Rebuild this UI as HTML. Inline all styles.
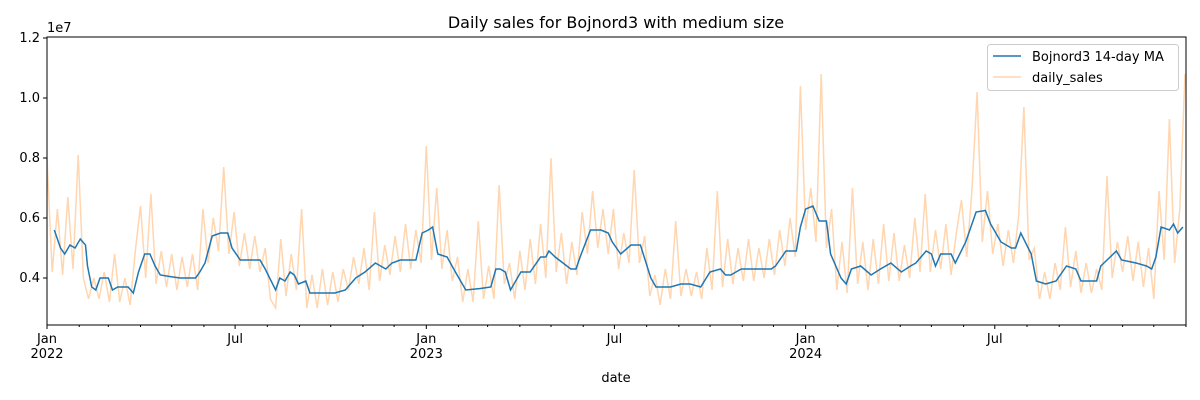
<!DOCTYPE html>
<html><head><meta charset="utf-8"><style>
html,body{margin:0;padding:0;background:#fff;}
svg{display:block;font-family:"DejaVu Sans","Liberation Sans",sans-serif;}
</style></head><body>
<svg id="chart" width="1200" height="400">
<text x="616" y="28" font-size="16" text-anchor="middle" fill="#000">Daily sales for Bojnord3 with medium size</text>
<text x="616" y="382" font-size="13" text-anchor="middle" fill="#000">date</text>
<text x="47" y="32" font-size="13" fill="#000">1e7</text>
</svg>
<script>
const dailyStep = 5;
const dailyValues = [8.0,4.2,6.3,4.1,6.7,4.3,8.1,4.0,3.3,4.0,
3.3,4.2,3.2,4.8,3.2,4.0,3.1,4.9,6.4,4.0,
6.8,3.8,4.9,3.7,4.8,3.6,4.7,3.7,4.8,3.6,
6.3,4.5,6.0,4.9,7.7,4.8,6.2,4.4,5.5,4.3,
5.4,4.2,5.0,3.3,3.0,5.3,3.4,4.8,3.6,6.3,
3.0,4.1,3.0,4.3,3.1,4.2,3.2,4.3,3.6,4.7,
3.8,5.0,3.6,6.2,3.9,5.1,4.1,5.4,4.2,5.8,
4.3,5.6,4.5,8.4,4.6,7.0,4.3,5.6,3.9,4.7,
3.2,4.3,3.2,5.9,3.3,4.4,3.3,7.1,3.8,4.5,
3.3,4.9,3.6,5.3,3.8,5.8,4.0,8.0,4.2,5.5,
3.8,5.2,4.1,6.2,4.8,6.9,5.0,6.3,4.8,6.3,
4.3,5.5,4.5,7.6,4.5,5.4,3.4,4.1,3.1,4.3,
3.3,5.9,3.4,4.3,3.4,4.2,3.3,5.0,3.6,6.9,
3.7,5.3,3.8,5.0,3.9,5.3,3.9,5.0,4.0,5.3,
4.1,5.6,4.4,6.0,4.7,10.4,5.6,7.0,5.2,10.8,
5.0,6.3,3.6,5.2,3.5,7.0,3.8,5.2,3.6,5.3,
3.8,5.8,3.9,5.5,3.9,5.1,4.0,6.0,4.2,6.8,
4.2,5.6,4.3,5.8,4.1,5.5,6.6,4.7,6.9,10.2,
5.2,6.9,4.8,5.8,4.4,5.6,4.5,6.1,9.7,4.6,
5.0,3.3,4.2,3.3,4.5,3.6,5.7,3.7,4.9,3.5,
4.5,3.5,4.3,3.6,7.4,4.0,5.2,4.2,5.4,3.9,
5.2,3.7,5.0,3.3,6.9,4.6,9.3,4.5,6.3,10.8];
const maDays = [7,13,17,22,27,32,37,39,43,47,51,59,63,68,78,83,88,94,99,104,109,118,128,143,147,152,159,167,174,178,186,205,210,220,224,229,234,238,242,249,253,277,287,297,306,316,326,332,340,355,361,367,371,376,385,393,403,417,427,432,436,441,446,456,465,475,480,483,489,504,509,513,523,533,540,544,552,562,571,581,586,600,610,619,629,638,648,653,658,668,697,701,711,721,725,730,737,743,750,754,764,769,774,783,793,802,812,822,831,836,846,851,855,860,870,874,884,894,903,908,918,928,932,937,947,952,961,971,981,990,995,1010,1014,1029,1034,1048,1058,1063,1067,1072,1080,1084,1088,1093];
const maValues = [5.6,5.0,4.8,5.1,5.0,5.3,5.1,4.4,3.7,3.6,4.0,4.0,3.6,3.7,3.7,3.5,4.2,4.8,4.8,4.4,4.1,4.05,4.0,4.0,4.2,4.5,5.4,5.5,5.5,5.0,4.6,4.6,4.3,3.6,4.0,3.9,4.2,4.1,3.8,3.9,3.5,3.5,3.6,4.0,4.2,4.5,4.3,4.5,4.6,4.6,5.5,5.6,5.7,4.8,4.7,4.2,3.6,3.65,3.7,4.3,4.3,4.2,3.6,4.2,4.2,4.7,4.7,4.9,4.7,4.3,4.3,4.7,5.6,5.6,5.5,5.2,4.8,5.1,5.1,4.0,3.7,3.7,3.8,3.8,3.7,4.2,4.3,4.1,4.1,4.3,4.3,4.4,4.9,4.9,5.7,6.3,6.4,5.9,5.9,4.8,4.0,3.8,4.3,4.4,4.1,4.3,4.5,4.2,4.4,4.5,4.9,4.8,4.4,4.8,4.8,4.5,5.2,6.2,6.25,5.8,5.2,5.0,5.0,5.5,4.8,3.9,3.8,3.9,4.4,4.3,3.9,3.9,4.4,4.9,4.6,4.5,4.4,4.3,4.7,5.7,5.6,5.8,5.5,5.7];
const yTicks = [0.4,0.6,0.8,1.0,1.2];
const yTickLabels = ["0.4","0.6","0.8","1.0","1.2"];
const xMajorLabels = [["Jan","2022"],["Jul",""],["Jan","2023"],["Jul",""],["Jan","2024"],["Jul",""]];

const NS="http://www.w3.org/2000/svg";
const svg=document.getElementById('chart');
const L=47,R=1186,T=37,B=325, totalDays=1096;
const xs=d=>L+(d/totalDays)*(R-L);
const ys=v=>278-(v-4)/2*60; // v in millions
function mk(t,a){const e=document.createElementNS(NS,t);for(const k in a)e.setAttribute(k,a[k]);svg.appendChild(e);return e;}

// daily line
let p='';dailyValues.forEach((v,i)=>{p+=(i?'L':'M')+xs(i*dailyStep).toFixed(1)+' '+Math.max(ys(v),T).toFixed(1);});
const dl=mk('path',{d:p,fill:'none',stroke:'#ffd6b0','stroke-width':1.5});


// MA line
p='';maValues.forEach((v,i)=>{p+=(i?'L':'M')+xs(maDays[i]).toFixed(1)+' '+ys(v).toFixed(1);});
const ml=mk('path',{d:p,fill:'none',stroke:'#1f77b4','stroke-width':1.5});



// frame
const fr=mk('rect',{x:L,y:T,width:R-L,height:B-T,fill:'none',stroke:'#000','stroke-width':1});



// y ticks
yTicks.forEach((v,i)=>{const y=ys(v*10);
 mk('line',{x1:L-4,x2:L,y1:y,y2:y,stroke:'#000'});
 const t=mk('text',{x:L-7,y:y+4,'font-size':13,'text-anchor':'end'});t.textContent=yTickLabels[i];
 
 
});
// x ticks: monthly
const monthStarts=[];
for(let y=2022;y<=2024;y++)for(let m=0;m<12;m++){monthStarts.push((Date.UTC(y,m,1)-Date.UTC(2022,0,1))/864e5);}
monthStarts.push(totalDays);
monthStarts.forEach((d,i)=>{const x=xs(d);const major=(i%6===0)&&i<36;
 mk('line',{x1:x,x2:x,y1:B,y2:B+(major?4:2),stroke:'#000'});
 if(major){const lab=xMajorLabels[i/6];
  const t=mk('text',{x:x,y:B+18,'font-size':13,'text-anchor':'middle'});t.textContent=lab[0];
  
  
  if(lab[1]){const t2=mk('text',{x:x,y:B+33,'font-size':13,'text-anchor':'middle'});t2.textContent=lab[1];
   
   }
 }
});
// legend
const lg=mk('rect',{x:987.5,y:44.5,width:191,height:46,rx:3,fill:'#fff','fill-opacity':0.8,stroke:'#ccc'});


mk('line',{x1:993,x2:1021,y1:56,y2:56,stroke:'#1f77b4','stroke-width':1.5});
mk('line',{x1:993,x2:1021,y1:77,y2:77,stroke:'#ffd6b0','stroke-width':1.5});
const l1=mk('text',{x:1032,y:61,'font-size':13});l1.textContent='Bojnord3 14-day MA';


const l2=mk('text',{x:1032,y:82,'font-size':13});l2.textContent='daily_sales';


</script>
</body></html>
